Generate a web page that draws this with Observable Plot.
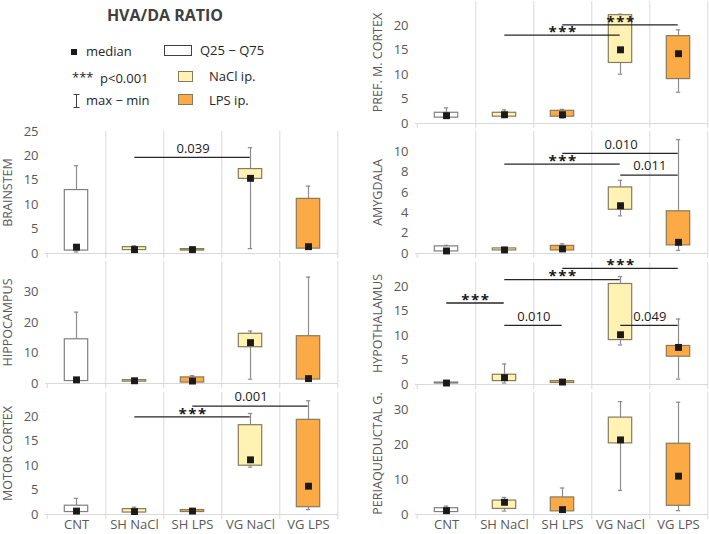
<!DOCTYPE html>
<html><head><meta charset="utf-8">
<script src="https://cdn.jsdelivr.net/npm/d3@7"></script>
<script src="https://cdn.jsdelivr.net/npm/@observablehq/plot@0.6"></script>
<style>
body{margin:0;background:#fff}
#wrap{position:relative;width:709px;height:534px;overflow:hidden;font-family:"Open Sans",sans-serif;background:#fff}
.abs{position:absolute;white-space:nowrap}
.lg{font-size:13px;color:#262626;line-height:18px}
</style></head><body>
<div id="wrap">
  <div class="abs" style="left:0;width:330px;top:4px;text-align:center;font-weight:700;font-size:16px;line-height:22px;color:#404040">HVA/DA RATIO</div>
  <div class="abs" style="left:71px;top:49px;width:6px;height:6px;background:#1a1a1a"></div>
  <div class="abs lg" style="left:86px;top:42px">median</div>
  <div class="abs" style="left:164px;top:45px;width:28px;height:11px;box-sizing:border-box;border:1px solid #404040;background:#fff"></div>
  <div class="abs lg" style="left:200px;top:41px">Q25 − Q75</div>
  <div class="abs lg" style="left:72px;top:68px">***</div>
  <div class="abs lg" style="left:100px;top:69px">p&lt;0.001</div>
  <div class="abs" style="left:178px;top:71px;width:15px;height:11px;box-sizing:border-box;border:1px solid #857b5e;background:#fff2b3"></div>
  <div class="abs lg" style="left:209px;top:67px">NaCl ip.</div>
  <svg class="abs" style="left:72px;top:94px" width="9" height="14"><path d="M4.5,0.5V13.5M1.5,0.5H7.5M1.5,13.5H7.5" stroke="#404040" stroke-width="1" fill="none"/></svg>
  <div class="abs lg" style="left:86px;top:91px">max − min</div>
  <div class="abs" style="left:178px;top:94px;width:15px;height:11px;box-sizing:border-box;border:1px solid #857b5e;background:#fcaa46"></div>
  <div class="abs lg" style="left:209px;top:91px">LPS ip.</div>
</div>
<script>
const groups = ["CNT", "SH NaCl", "SH LPS", "VG NaCl", "VG LPS"];
const treatment = ["none", "NaCl", "LPS", "NaCl", "LPS"];
const treatmentDomain = ["none", "NaCl", "LPS"];
const treatmentColors = ["#ffffff", "#fff2b3", "#fcaa46"];

// each row: [min, Q25, median, Q75, max] for CNT, SH NaCl, SH LPS, VG NaCl, VG LPS
const brainstem = [[0.3, 0.6, 1.3, 13.0, 18.0], [0.5, 0.7, 0.8, 1.3, 1.6], [0.5, 0.6, 0.8, 0.9, 1.2], [1.0, 15.3, 15.4, 17.3, 21.7], [1.0, 1.0, 1.4, 11.2, 13.8]];
const hippocampus = [[0.5, 0.8, 1.2, 14.5, 23.4], [0.5, 0.6, 0.9, 1.1, 1.3], [0.2, 0.3, 0.8, 2.0, 2.6], [1.4, 11.9, 13.4, 16.3, 17.2], [1.2, 1.3, 1.6, 15.5, 34.9]];
const motorCortex = [[0.4, 0.5, 0.7, 1.8, 3.3], [0.3, 0.4, 0.6, 1.1, 1.5], [0.4, 0.5, 0.7, 0.9, 1.0], [9.7, 10.0, 11.2, 18.3, 20.7], [1.0, 1.5, 5.8, 19.4, 23.3]];
const prefCortex = [[1.2, 1.2, 1.6, 2.2, 3.2], [1.2, 1.4, 1.8, 2.2, 2.8], [1.1, 1.4, 1.8, 2.6, 2.9], [10.1, 12.4, 15.1, 22.2, 22.4], [6.4, 9.1, 14.3, 17.9, 19.2]];
const amygdala = [[0.1, 0.2, 0.25, 0.7, 0.8], [0.25, 0.3, 0.35, 0.5, 0.6], [0.2, 0.3, 0.45, 0.75, 0.95], [3.7, 4.3, 4.7, 6.5, 7.2], [0.3, 0.8, 1.1, 4.15, 11.2]];
const hypothalamus = [[0.1, 0.2, 0.3, 0.4, 0.5], [0.3, 0.7, 1.4, 2.0, 4.2], [0.2, 0.3, 0.5, 0.7, 0.8], [8.1, 9.1, 10.2, 20.6, 22.1], [1.1, 5.7, 7.6, 7.9, 13.4]];
const periaqueductal = [[0.6, 0.7, 1.1, 1.8, 2.4], [1.0, 1.6, 3.5, 4.0, 4.9], [0.9, 0.9, 1.4, 4.9, 7.6], [6.9, 20.4, 21.4, 27.8, 32.4], [1.1, 2.5, 11.0, 20.3, 32.2]];

// significance: [from, to, level, label]
const brainstemSig = [["SH NaCl", "VG NaCl", 19.7, "0.039"]];
const hippocampusSig = [];
const motorCortexSig = [["SH NaCl", "VG NaCl", 20.0, "***"], ["SH LPS", "VG LPS", 22.2, "0.001"]];
const prefCortexSig = [["SH NaCl", "VG NaCl", 18.1, "***"], ["SH LPS", "VG LPS", 20.2, "***"]];
const amygdalaSig = [["SH NaCl", "VG NaCl", 8.8, "***"], ["SH LPS", "VG LPS", 9.85, "0.010"], ["VG NaCl", "VG LPS", 7.7, "0.011"]];
const hypothalamusSig = [["CNT", "SH NaCl", 16.7, "***"], ["SH NaCl", "SH LPS", 12.1, "0.010"], ["SH NaCl", "VG NaCl", 21.5, "***"], ["SH LPS", "VG LPS", 23.8, "***"], ["VG NaCl", "VG LPS", 12.1, "0.049"]];
const periaqueductalSig = [];

const COLS = {left: {x: 0, width: 345, ml: 45, mr: 7}, right: {x: 355, width: 354, ml: 60, mr: 1}};
const PH = 122, MT = 10;

function makePanel(p) {
  const c = COLS[p.col];
  const mb = p.showX ? 20 : 10;
  const bw = (c.width - c.ml - c.mr) / groups.length;
  const rows = groups.map((g, i) => ({group: g, treat: treatment[i], min: p.stats[i][0], q1: p.stats[i][1], med: p.stats[i][2], q3: p.stats[i][3], max: p.stats[i][4]}));
  const sigRows = p.sigs.map(([a, b, y, t]) => ({a, b, y, t, star: t === "***"}));
  const boxInset = (bw - 24) / 2, capInset = (bw - 5) / 2;
  const grid = "#d9d9d9", whisk = "#8c8c8c";
  const plot = Plot.plot({
    width: c.width, height: MT + PH + mb,
    marginLeft: c.ml, marginRight: c.mr, marginTop: MT, marginBottom: mb,
    style: {fontSize: "13px", fontFamily: "'Open Sans', sans-serif", color: "#595959", background: "transparent", overflow: "visible"},
    x: {type: "band", domain: groups, padding: 0, axis: p.showX ? "bottom" : null, tickSize: 0, tickPadding: 5, label: null},
    y: {domain: p.domain, ticks: p.ticks, tickSize: 0, tickPadding: 7, label: null},
    color: {type: "ordinal", domain: treatmentDomain, range: treatmentColors},
    marks: [
      Plot.ruleX(groups, {x: d => d, dx: bw / 2, stroke: grid, insetBottom: -5}),
      Plot.ruleX(groups.slice(0, 1), {x: d => d, dx: -bw / 2, y1: 0, y2: 0, insetBottom: -5, stroke: grid}),
      Plot.ruleY([0], {stroke: grid}),
      Plot.ruleX(rows, {x: "group", y1: "min", y2: "max", stroke: whisk, strokeWidth: 1.2}),
      Plot.tickY(rows, {x: "group", y: "min", insetLeft: capInset, insetRight: capInset, stroke: whisk, strokeWidth: 1.2}),
      Plot.tickY(rows, {x: "group", y: "max", insetLeft: capInset, insetRight: capInset, stroke: whisk, strokeWidth: 1.2}),
      Plot.barY(rows, {filter: d => d.treat === "none", x: "group", y1: "q1", y2: "q3", fill: "treat", stroke: "#7f7f7f", strokeWidth: 1.2, insetLeft: boxInset, insetRight: boxInset}),
      Plot.barY(rows, {filter: d => d.treat !== "none", x: "group", y1: "q1", y2: "q3", fill: "treat", stroke: "#857b5e", strokeWidth: 1.2, insetLeft: boxInset, insetRight: boxInset}),
      Plot.dot(rows, {x: "group", y: "med", symbol: "square", r: 3.9, fill: "#1a1a1a"}),
      Plot.ruleY(sigRows, {y: "y", x1: "a", x2: "b", insetLeft: bw / 2, insetRight: bw / 2, stroke: "#262626", strokeWidth: 1.3}),
      ...sigRows.map(s => Plot.text([s], {
        x: "a", y: "y", text: "t",
        dx: (groups.indexOf(s.b) - groups.indexOf(s.a)) * bw / 2,
        dy: s.star ? -3 : -9,
        fontSize: s.star ? 15 : 13, fontWeight: s.star ? 700 : 400, fill: "#1a1a1a"
      })),
      Plot.text([p.label], {text: d => d, frameAnchor: "left", textAnchor: "middle", rotate: -90, dx: -38, fontSize: 12.5, fill: "#595959"})
    ]
  });
  plot.querySelectorAll("text").forEach(t => { if (t.textContent === "***") t.style.letterSpacing = "1.5px"; });
  plot.style.position = "absolute";
  plot.style.left = c.x + "px";
  plot.style.top = (p.plotTop - MT) + "px";
  document.getElementById("wrap").appendChild(plot);
}

const panels = [
  {label: "PREF. M. CORTEX", stats: prefCortex, sigs: prefCortexSig, domain: [0, 25], ticks: [0, 5, 10, 15, 20], col: "right", plotTop: 1, showX: false},
  {label: "BRAINSTEM", stats: brainstem, sigs: brainstemSig, domain: [0, 25], ticks: [0, 5, 10, 15, 20, 25], col: "left", plotTop: 131, showX: false},
  {label: "AMYGDALA", stats: amygdala, sigs: amygdalaSig, domain: [0, 12], ticks: [0, 2, 4, 6, 8, 10], col: "right", plotTop: 131, showX: false},
  {label: "HIPPOCAMPUS", stats: hippocampus, sigs: hippocampusSig, domain: [0, 40], ticks: [0, 10, 20, 30], col: "left", plotTop: 261, showX: false},
  {label: "HYPOTHALAMUS", stats: hypothalamus, sigs: hypothalamusSig, domain: [0, 25], ticks: [0, 5, 10, 15, 20], col: "right", plotTop: 262, showX: false},
  {label: "MOTOR CORTEX", stats: motorCortex, sigs: motorCortexSig, domain: [0, 25], ticks: [0, 5, 10, 15, 20], col: "left", plotTop: 392, showX: true},
  {label: "PERIAQUEDUCTAL G.", stats: periaqueductal, sigs: periaqueductalSig, domain: [0, 35], ticks: [0, 10, 20, 30], col: "right", plotTop: 392, showX: true}
];
panels.forEach(makePanel);
</script>
</body></html>
